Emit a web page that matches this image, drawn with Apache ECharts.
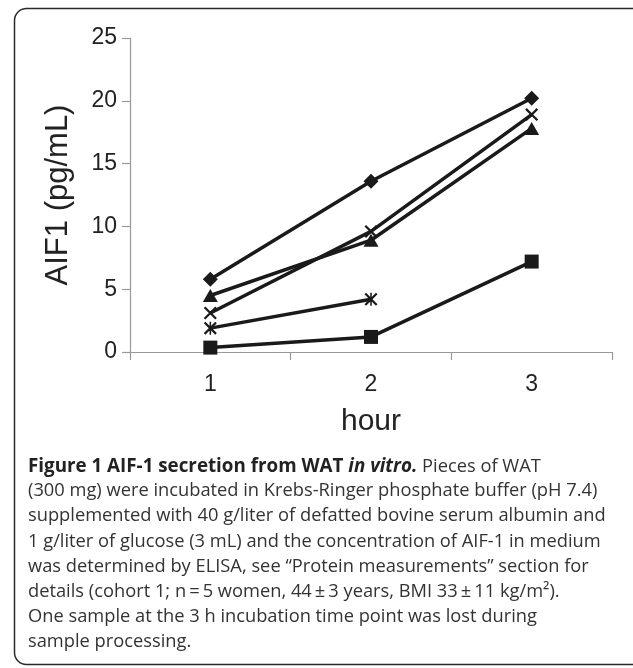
<!DOCTYPE html>
<html>
<head>
<meta charset="utf-8">
<script src="https://cdn.jsdelivr.net/npm/echarts@6/dist/echarts.min.js"></script>
<style>
html,body{margin:0;padding:0;background:#fff;}
#c{width:633px;height:668px;}
</style>
</head>
<body>
<div id="c"></div>
<script>
// ---- data ----
var hours = ['1', '2', '3'];
var seriesDiamond  = [5.8, 13.6, 20.2];
var seriesTriangle = [4.5, 8.9, 17.8];
var seriesCross    = [3.1, 9.6, 18.9];
var seriesStar     = [1.9, 4.2, null];
var seriesSquare   = [0.35, 1.2, 7.2];
var yTicks = [0, 5, 10, 15, 20, 25];
var captionLines = [
  '(300 mg) were incubated in Krebs-Ringer phosphate buffer (pH 7.4)',
  'supplemented with 40 g/liter of defatted bovine serum albumin and',
  '1 g/liter of glucose (3 mL) and the concentration of AIF-1 in medium',
  'was determined by ELISA, see \u201cProtein measurements\u201d section for',
  'details (cohort 1; n\u2009=\u20095 women, 44\u2009\u00b1\u20093 years, BMI 33\u2009\u00b1\u200911 kg/m\u00b2).',
  'One sample at the 3 h incubation time point was lost during',
  'sample processing.'
];

var crossPath = 'path://M0,1.2 L1.2,0 L10,8.8 L8.8,10 Z M8.8,0 L10,1.2 L1.2,10 L0,8.8 Z';
var starPath = 'path://M0,1.2 L1.2,0 L10,8.8 L8.8,10 Z M8.8,0 L10,1.2 L1.2,10 L0,8.8 Z M4.4,0 L5.6,0 L5.6,10 L4.4,10 Z';

function mk(data, symbol, size) {
  return {
    type: 'line', data: data, symbol: symbol, symbolSize: size,
    connectNulls: false, showAllSymbol: true,
    lineStyle: { color: '#1a1a1a', width: 3.5 },
    itemStyle: { color: '#1a1a1a' },
    emphasis: { disabled: true }, animation: false
  };
}

var chart = echarts.init(document.getElementById('c'), null, { renderer: 'canvas' });

var capFont = 18.3;
var graphics = [
  { type: 'rect', shape: { x: 14.5, y: 8.5, width: 640, height: 656, r: [12, 0, 0, 12] },
    style: { fill: 'none', stroke: '#2a2a2a', lineWidth: 1.5 }, z: 0 },
  { type: 'text', left: 28, top: 457,
    style: {
      text: '{b|Figure 1 AIF-1 secretion from WAT }{bi|in vitro.}{n| Pieces of WAT}',
      rich: {
        b: { fontFamily: 'Open Sans', fontWeight: 'bold', fontSize: 18.8, fill: '#222' },
        bi: { fontFamily: 'Open Sans', fontWeight: 'bold', fontStyle: 'italic', fontSize: 18.8, fill: '#222' },
        n: { fontFamily: 'Open Sans', fontSize: capFont, fill: '#333' }
      }
    } }
];
for (var i = 0; i < captionLines.length; i++) {
  graphics.push({ type: 'text', left: 28, top: 482 + i * 25.2,
    style: { text: captionLines[i], fontFamily: 'Open Sans', fontSize: capFont, fill: '#333' } });
}

chart.setOption({
  animation: false,
  backgroundColor: '#fff',
  grid: { left: 130, right: 21, top: 38, bottom: 316 },
  xAxis: {
    type: 'category', data: hours, boundaryGap: true,
    name: 'hour', nameLocation: 'middle', nameGap: 55,
    nameTextStyle: { fontFamily: 'Liberation Sans', fontSize: 30, color: '#222' },
    axisLine: { lineStyle: { color: '#999', width: 1.2 } },
    axisTick: { show: true, length: 8, lineStyle: { color: '#999', width: 1.2 } },
    axisLabel: { fontFamily: 'Liberation Sans', fontSize: 23, color: '#222', margin: 21 },
    splitLine: { show: false }
  },
  yAxis: {
    type: 'value', min: 0, max: 25, interval: 5,
    name: 'AIF1 (pg/mL)', nameLocation: 'middle', nameGap: 56,
    nameTextStyle: { fontFamily: 'Liberation Sans', fontSize: 31, color: '#222' },
    axisLine: { show: true, lineStyle: { color: '#999', width: 1.2 } },
    axisTick: { show: true, length: 8, lineStyle: { color: '#999', width: 1.2 } },
    axisLabel: { fontFamily: 'Liberation Sans', fontSize: 23, color: '#222', margin: 13,
      formatter: function (v) { return yTicks.indexOf(v) >= 0 ? String(v) : ''; } },
    splitLine: { show: false }
  },
  series: [
    mk(seriesDiamond, 'diamond', 15),
    mk(seriesTriangle, 'triangle', [15, 13]),
    mk(seriesCross, crossPath, 13),
    mk(seriesStar, starPath, 13),
    mk(seriesSquare, 'rect', 14)
  ],
  graphic: graphics
});
</script>
</body>
</html>
